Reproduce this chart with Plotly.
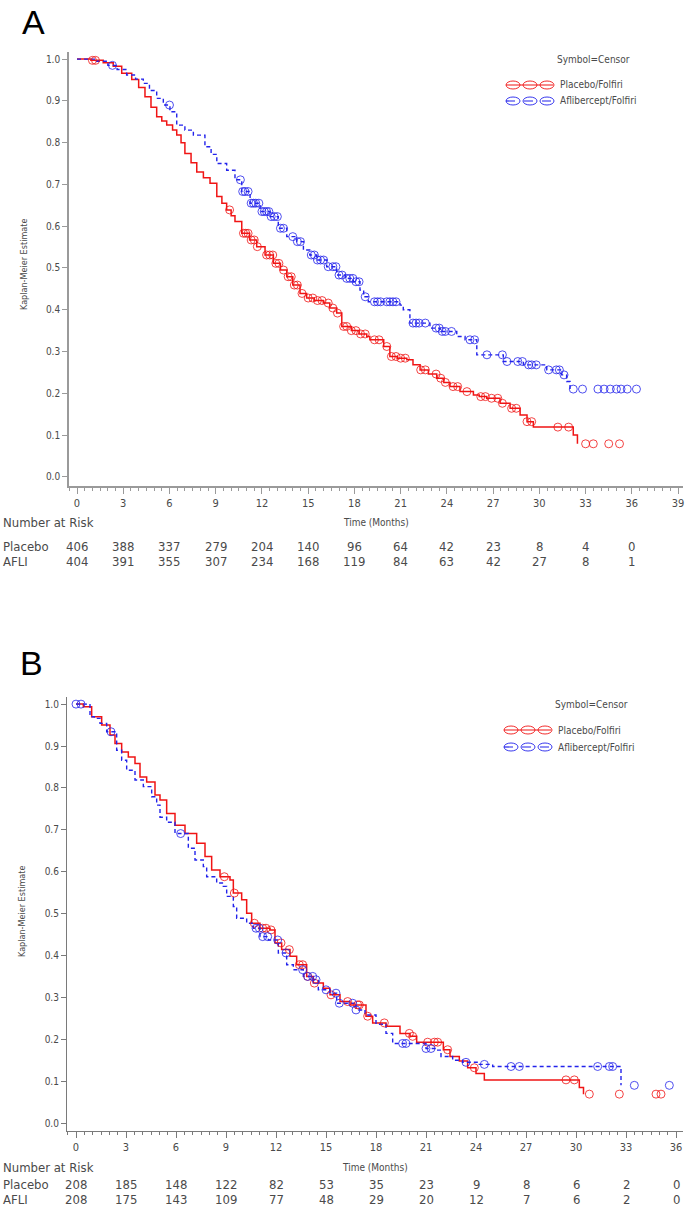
import plotly.graph_objects as go

# ---- panel A : Kaplan-Meier steps (event time, survival after event) ----
pbo_a_t = [0, 0.9, 1.7, 2.35, 2.9, 3.55, 4.0, 4.41, 4.8, 5.17, 5.5, 5.82, 6.2, 6.47, 6.75, 7.0,
           7.4, 7.77, 8.2, 8.63, 9.07, 9.4, 9.71, 10.0, 10.25, 10.69, 11.2, 11.66, 12.2, 12.74,
           13.2, 13.61, 14.0, 14.47, 14.9, 15.4, 15.98, 16.4, 16.85, 17.18, 17.8, 18.3, 18.8,
           19.0, 19.9, 20.3, 20.8, 21.4, 21.8, 22.26, 22.8, 23.34, 23.8, 24.2, 24.85, 25.72,
           26.1, 26.58, 27.45, 28.1, 28.75, 29.2, 29.61, 32.2, 32.47]
pbo_a_s = [1.0, 0.997, 0.991, 0.983, 0.966, 0.951, 0.932, 0.910, 0.885, 0.862, 0.852, 0.842,
           0.830, 0.818, 0.800, 0.774, 0.752, 0.730, 0.716, 0.703, 0.671, 0.655, 0.639, 0.625,
           0.611, 0.583, 0.567, 0.551, 0.531, 0.511, 0.495, 0.479, 0.459, 0.439, 0.428, 0.422,
           0.416, 0.404, 0.392, 0.360, 0.350, 0.342, 0.336, 0.328, 0.312, 0.288, 0.284, 0.280,
           0.268, 0.256, 0.246, 0.236, 0.226, 0.216, 0.204, 0.196, 0.192, 0.188, 0.176, 0.164,
           0.148, 0.132, 0.119, 0.100, 0.079]
pbo_a_cens = [1.0, 1.2, 9.9, 10.8, 10.95, 11.1, 11.3, 11.5, 11.7, 12.3, 12.5, 12.7, 12.9, 13.1,
              13.4, 13.7, 13.9, 14.1, 14.3, 14.6, 15.0, 15.3, 15.6, 15.9, 16.3, 16.6, 16.9, 17.3,
              17.5, 17.8, 18.1, 18.4, 18.7, 19.3, 19.6, 20.1, 20.4, 20.7, 21.0, 21.3, 22.3, 22.6,
              23.3, 23.6, 23.9, 24.4, 24.7, 25.3, 26.2, 26.5, 26.9, 27.3, 27.6, 28.2, 28.5, 29.2,
              29.5, 31.2, 31.9, 33.0, 33.5, 34.5, 35.2]

afl_a_t = [0, 1.2, 2.0, 2.6, 3.22, 3.8, 4.3, 4.7, 5.17, 5.6, 6.03, 6.47, 7.0, 7.55, 8.3, 8.7,
           9.07, 9.71, 10.25, 10.69, 11.23, 11.88, 12.52, 13.06, 13.61, 14.26, 14.69, 15.1,
           15.55, 16.2, 16.85, 17.4, 17.93, 18.36, 18.6, 18.9, 20.96, 21.17, 21.6, 22.9, 23.56,
           24.64, 25.18, 25.94, 27.66, 28.96, 30.48, 31.45, 31.77, 31.99]
afl_a_s = [1.0, 0.995, 0.985, 0.975, 0.962, 0.952, 0.942, 0.925, 0.906, 0.890, 0.874, 0.842,
           0.830, 0.818, 0.790, 0.772, 0.750, 0.734, 0.711, 0.683, 0.655, 0.635, 0.623, 0.595,
           0.575, 0.563, 0.543, 0.531, 0.519, 0.503, 0.483, 0.475, 0.467, 0.447, 0.431, 0.419,
           0.411, 0.400, 0.368, 0.356, 0.348, 0.336, 0.328, 0.292, 0.276, 0.268, 0.256, 0.244,
           0.228, 0.210]
afl_a_cens = [2.3, 6.0, 10.6, 10.75, 10.9, 11.1, 11.3, 11.45, 11.6, 11.8, 12.0, 12.15, 12.3,
              12.45, 12.6, 12.8, 13.0, 13.2, 13.4, 14.0, 14.3, 14.5, 15.2, 15.4, 15.6, 15.8, 16.0,
              16.3, 16.6, 16.8, 17.0, 17.2, 17.5, 17.7, 17.9, 18.1, 18.3, 18.7, 19.3, 19.5, 19.7,
              20.1, 20.3, 20.5, 20.7, 21.8, 22.0, 22.2, 22.6, 23.3, 23.5, 23.7, 23.9, 24.3, 25.5,
              25.8, 26.6, 27.6, 27.9, 28.6, 28.9, 29.3, 29.5, 29.8, 30.6, 31.1, 31.3, 31.6, 32.2,
              32.8, 33.8, 34.2, 34.6, 35.0, 35.3, 35.7, 36.3]

# ---- panel B ----
pbo_b_t = [0, 0.44, 0.94, 1.54, 2.04, 2.34, 2.74, 3.14, 3.54, 3.84, 4.24, 4.74, 5.04, 5.44,
           5.94, 6.54, 7.24, 7.74, 8.14, 8.64, 9.24, 9.44, 9.94, 10.24, 10.54, 11.04, 11.64,
           11.94, 12.34, 12.84, 13.24, 13.84, 14.24, 14.84, 15.24, 15.84, 16.44, 17.4, 17.8,
           18.6, 19.44, 20.04, 20.44, 22.04, 22.44, 23.0, 23.5, 24.0, 24.5, 30.2, 30.45]
pbo_b_s = [1.0, 0.994, 0.970, 0.950, 0.926, 0.906, 0.886, 0.874, 0.858, 0.826, 0.814, 0.783,
           0.771, 0.739, 0.711, 0.691, 0.668, 0.636, 0.604, 0.588, 0.580, 0.549, 0.533, 0.501,
           0.477, 0.465, 0.461, 0.430, 0.414, 0.398, 0.378, 0.350, 0.334, 0.322, 0.306, 0.290,
           0.282, 0.255, 0.239, 0.231, 0.214, 0.207, 0.193, 0.175, 0.159, 0.148, 0.132, 0.118,
           0.103, 0.085, 0.069]
pbo_b_cens = [8.9, 9.5, 10.7, 11.2, 11.4, 11.7, 12.3, 12.8, 13.4, 13.6, 13.9, 14.3, 15.3, 16.3,
              16.9, 17.0, 17.5, 18.5, 20.0, 20.2, 21.1, 21.5, 21.7, 22.3, 23.9, 29.4, 29.9, 30.8,
              32.6, 34.8, 35.1]

afl_b_t = [0, 0.84, 1.1, 1.44, 1.84, 2.44, 2.74, 3.04, 3.54, 4.04, 4.54, 4.84, 5.04, 5.44,
           5.94, 6.74, 7.14, 7.64, 7.84, 8.44, 8.84, 9.04, 9.44, 9.64, 10.24, 10.64, 11.04,
           11.54, 12.14, 12.64, 13.04, 13.64, 14.24, 14.54, 15.24, 15.64, 16.8, 17.34, 18.0,
           18.6, 19.0, 21.0, 21.6, 21.9, 22.6, 23.2, 24.2, 25.0, 32.7]
afl_b_s = [1.0, 0.970, 0.966, 0.954, 0.934, 0.890, 0.866, 0.842, 0.819, 0.803, 0.779, 0.759,
           0.730, 0.718, 0.691, 0.656, 0.628, 0.612, 0.588, 0.573, 0.565, 0.541, 0.517, 0.489,
           0.477, 0.465, 0.445, 0.437, 0.406, 0.378, 0.366, 0.350, 0.342, 0.318, 0.310, 0.286,
           0.270, 0.258, 0.236, 0.214, 0.190, 0.178, 0.174, 0.159, 0.150, 0.145, 0.140, 0.135,
           0.090]
afl_b_cens = [0.0, 0.3, 2.1, 6.28, 10.8, 11.0, 11.2, 11.5, 12.1, 12.6, 13.6, 13.9, 14.2, 14.4,
              15.0, 15.6, 15.8, 16.6, 16.8, 19.6, 19.8, 21.0, 21.3, 23.4, 24.5, 26.1, 26.6, 31.3,
              32.0, 32.2, 33.5, 35.6]

# ---- number at risk ----
risk_times = [0, 3, 6, 9, 12, 15, 18, 21, 24, 27, 30, 33, 36]
risk_pbo_a = [406, 388, 337, 279, 204, 140, 96, 64, 42, 23, 8, 4, 0]
risk_afl_a = [404, 391, 355, 307, 234, 168, 119, 84, 63, 42, 27, 8, 1]
risk_pbo_b = [208, 185, 148, 122, 82, 53, 35, 23, 9, 8, 6, 2, 0]
risk_afl_b = [208, 175, 143, 109, 77, 48, 29, 20, 12, 7, 6, 2, 0]

RED = "rgb(240,20,20)"
BLUE = "rgb(35,35,235)"
TXT = "#4a4a4a"
FONT = "DejaVu Sans Condensed, Liberation Sans Narrow, sans-serif"
W, H = 685, 1213


def step_at(ts, ss, t):
    val = ss[0]
    for ti, si in zip(ts, ss):
        if ti <= t:
            val = si
    return val


def px(x):
    return x / W


def py(y):
    return 1 - y / H


fig = go.Figure()

panels = [
    ("x", "y", pbo_a_t, pbo_a_s, pbo_a_cens, afl_a_t, afl_a_s, afl_a_cens),
    ("x2", "y2", pbo_b_t, pbo_b_s, pbo_b_cens, afl_b_t, afl_b_s, afl_b_cens),
]
for xa, ya, pt, ps, pc, at, a_s, ac in panels:
    fig.add_trace(go.Scatter(x=pt, y=ps, mode="lines", line=dict(color=RED, width=1.5, shape="hv"),
                             xaxis=xa, yaxis=ya))
    fig.add_trace(go.Scatter(x=at, y=a_s, mode="lines",
                             line=dict(color=BLUE, width=1.4, shape="hv", dash="4px,3px"),
                             xaxis=xa, yaxis=ya))
    fig.add_trace(go.Scatter(x=pc, y=[step_at(pt, ps, t) for t in pc], mode="markers",
                             marker=dict(symbol="circle-open", size=8, color=RED, line=dict(width=0.8)),
                             xaxis=xa, yaxis=ya))
    fig.add_trace(go.Scatter(x=ac, y=[step_at(at, a_s, t) for t in ac], mode="markers",
                             marker=dict(symbol="circle-open", size=8, color=BLUE, line=dict(width=0.8)),
                             xaxis=xa, yaxis=ya))

axis_common = dict(showgrid=False, zeroline=False, showline=True, ticks="outside",
                   tickfont=dict(family=FONT, size=10, color=TXT))

fig.update_layout(
    width=W, height=H, margin=dict(l=0, r=0, t=0, b=0),
    paper_bgcolor="white", plot_bgcolor="white", showlegend=False,
    xaxis=dict(axis_common, domain=[px(69), px(683)], range=[-0.52, 39.32], anchor="y",
               tickvals=risk_times + [39], ticklen=6, linecolor="#9a9a9a", linewidth=1.6,
               tickcolor="#9a9a9a", tickfont=dict(family=FONT, size=11, color=TXT),
               minor=dict(dtick=0.5, tick0=0, ticklen=3, ticks="outside", tickcolor="#9a9a9a")),
    yaxis=dict(axis_common, domain=[py(486), py(52)], range=[-0.022, 1.017], anchor="x",
               tickvals=[i / 10 for i in range(11)], tickformat=".1f", ticklen=5,
               linecolor="#9a9a9a", linewidth=1.6, tickcolor="#9a9a9a"),
    xaxis2=dict(axis_common, domain=[px(67), px(683)], range=[-0.54, 36.42], anchor="y2",
                tickvals=risk_times, ticklen=6, linecolor="#7a7a7a", linewidth=1.1,
                tickcolor="#7a7a7a", tickfont=dict(family=FONT, size=11, color=TXT),
                minor=dict(dtick=0.5, tick0=0, ticklen=3, ticks="outside", tickcolor="#7a7a7a")),
    yaxis2=dict(axis_common, domain=[py(1131), py(697)], range=[-0.019, 1.017], anchor="x2",
                tickvals=[i / 10 for i in range(11)], tickformat=".1f", ticklen=5,
                linecolor="#7a7a7a", linewidth=1.1, tickcolor="#7a7a7a"),
)

ann = []
shapes = []


def text(x, y, s, size, xref="paper", xanchor="left", angle=0, family=FONT, color=TXT):
    ann.append(dict(x=x, y=y, xref=xref, yref="paper", text=s, showarrow=False,
                    xanchor=xanchor, yanchor="middle", textangle=angle,
                    font=dict(family=family, size=size, color=color)))


# panel letters
text(px(20), py(22), "A", 34, family="Liberation Sans, Arial, sans-serif", color="black")
text(px(18), py(663), "B", 34, family="Liberation Sans, Arial, sans-serif", color="black")

# axis titles and number-at-risk tables
for xa, xd, ytitle, yrisk, rows in [
    ("x", "x domain", 265, (522, 546, 561), (risk_pbo_a, risk_afl_a)),
    ("x2", "x2 domain", 912, (1167, 1184, 1199), (risk_pbo_b, risk_afl_b)),
]:
    text(px(24 if xa == "x" else 22), py(ytitle), "Kaplan-Meier Estimate", 9, xanchor="center", angle=-90)
    text(0.5, py(yrisk[0]), "Time (Months)", 10, xref=xd, xanchor="center")
    text(px(1), py(yrisk[0]), "Number at Risk", 13)
    text(px(1), py(yrisk[1]), "Placebo", 13)
    text(px(1), py(yrisk[2]), "AFLI", 13)
    for row, yy in zip(rows, yrisk[1:]):
        for t, n in zip(risk_times, row):
            text(t, py(yy), str(n), 13, xref=xa, xanchor="center")


# legends (Symbol=Censor)
def legend(x0, ytitle, y1, y2):
    text(px(x0 + 49), py(ytitle), "Symbol=Censor", 10)
    for yy, col, dash, lab in [(y1, RED, "solid", "Placebo/Folfiri"),
                               (y2, BLUE, "dash", "Aflibercept/Folfiri")]:
        shapes.append(dict(type="line", xref="paper", yref="paper", x0=px(x0), x1=px(x0 + 47),
                           y0=py(yy), y1=py(yy), line=dict(color=col, width=1.2, dash=dash)))
        for k in range(3):
            cx = x0 + 7 + k * 17
            shapes.append(dict(type="circle", xref="paper", yref="paper",
                               x0=px(cx - 7), x1=px(cx + 7), y0=py(yy - 4), y1=py(yy + 4),
                               line=dict(color=col, width=0.9)))
        text(px(x0 + 52), py(yy), lab, 10)


legend(506, 59, 85, 101)
legend(504, 704, 730, 747)

fig.update_layout(annotations=ann, shapes=shapes)
# the page's default body margin would push the figure 8px right and down
fig.write_html("out.html", config={"displayModeBar": False},
               post_script="document.body.style.margin='0';")
